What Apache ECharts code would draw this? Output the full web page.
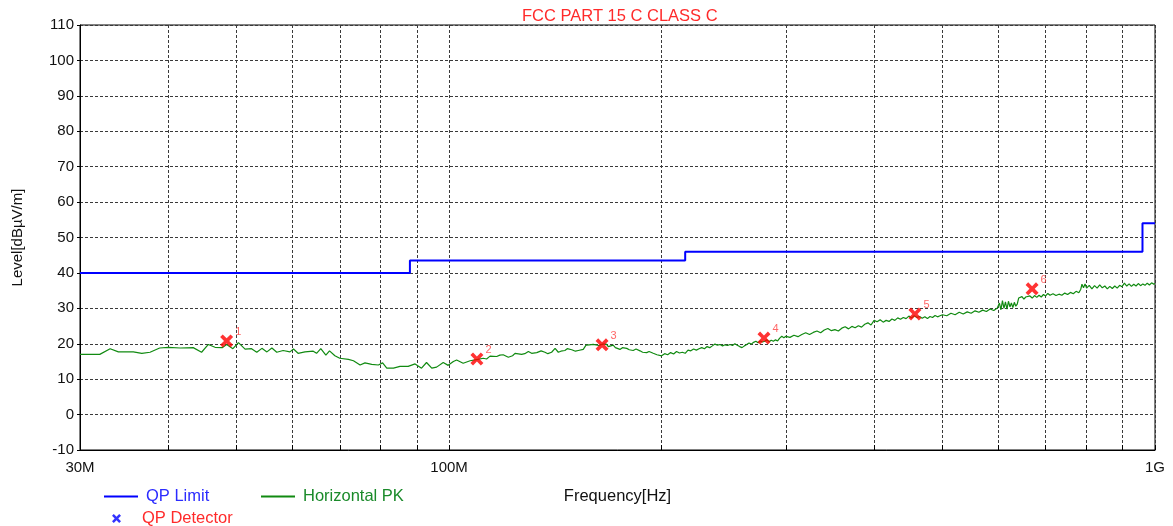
<!DOCTYPE html>
<html>
<head>
<meta charset="utf-8">
<script src="https://cdn.jsdelivr.net/npm/echarts@6/dist/echarts.min.js"></script>
<style>
html,body{margin:0;padding:0;background:#fff;}
#chart{width:1173px;height:526px;}
</style>
</head>
<body>
<div id="chart"></div>
<script>
// ---- data (frequency in MHz, level in dBµV/m) ----
const titleText = 'FCC PART 15 C CLASS C';
const xRange = [30, 1000];
const yRange = [-10, 110];
const yStep = 10;
const xTickLabels = {30: '30M', 100: '100M', 1000: '1G'};

// QP limit bands: [startMHz, endMHz, level]
const limitBands = [[30, 88, 40], [88, 216, 43.5], [216, 960, 46], [960, 1000, 54]];

// QP detector readings
const qpFreq  = [48.4, 109.5, 164.7, 279.3, 457.0, 669.7];
const qpLevel = [20.8, 15.7, 19.7, 21.6, 28.4, 35.5];

// Horizontal PK trace [MHz, level]
const pkLow = [
 [30,17.0],[32,17.0],[33.1,18.6],[34,17.7],[35.7,17.7],[36.7,17.3],[37.7,17.6],[38.9,18.8],[40,19.0],
 [41.6,18.8],[43.4,18.9],[44.6,17.6],[45.6,19.8],[46.6,19.0],[47.7,18.9],[48.4,19.8],[49.4,18.6],
 [50.3,20.3],[51.4,18.5],[52.5,18.6],[53.4,17.6],[54.3,18.7],[55.2,17.7],[56.1,18.8],[57.0,17.6],
 [58.2,18.1],[59.5,17.7],[60.2,18.5],[61.1,17.3],[62.5,17.7],[64.2,17.9],[64.9,17.3],[65.8,18.6],
 [66.9,16.8],[67.7,18.0],[68.9,16.6],[70.0,15.9],[72.0,15.6],[73.2,15.2],[74.8,14.0],[76.0,14.6],
 [77.7,14.2],[79.4,14.0],[80.5,14.6],[81.6,13.1],[83.4,13.1],[85.2,13.6],[87.5,13.6],[89.5,14.3],
 [91.4,13.1],[92.9,14.7],[94.5,13.1],[96.0,13.4],[98.1,14.7],[99.7,13.9]
];
const pkMid = [
 [101.4,15.0],[102.5,15.4],[104.7,14.5],[107.1,15.2],[109.8,15.6],[111.8,15.9],[113,15.7],[114.3,16.5],
 [116.8,16.4],[118,16.8],[119.3,16.9],[121.3,16.2],[123,16.6],[124.0,17.3],[126.7,17.0],[128,17.2],
 [129.5,17.8],[130.9,17.3],[133.1,17.5],[135,18.0],[136.7,17.6],[138,17.2],[139.7,17.6],[141.3,18.7],
 [142.8,17.6],[144,17.9],[145.9,18.1],[147,18.6],[149.2,18.3],[151,17.9],[152.4,18.1],[154.9,18.4],
 [156.3,19.6],[158,19.7],[160.0,19.8],[163,19.5],[165.0,19.9],[167,19.9],[168.1,19.2],[170.8,19.6],
 [172,18.9],[174.6,18.4],[176,18.9],[178.5,18.7],[180,18.3],[182.3,18.1],[184,18.5],[186.4,18.0],
 [188,17.6],[190.5,17.5],[192,17.8],[194.6,17.3],[197,16.9]
];
const pkHigh1 = [
 [200,16.6],[202,17.2],[204,16.9],[206,17.5],[208,17.1],[210,17.8],[212,17.4],[214,17.6],[216,17.3],
 [218,18.2],[220,18.0],[222,18.5],[224,18.2],[226,18.6],[228,18.9],[230,18.6],[232,19.2],[234,18.9],
 [236,19.4],[238,19.9],[240,19.6],[242,19.8],[244,19.4],[246,19.7],[248,19.5],[250,19.8],[252,19.5],
 [254,20.0],[256,19.6],[258,19.2],[260,18.9],[262,19.4],[264,19.8],[266,20.2],[268,19.9],[270,20.4],
 [272,20.7],[274,20.3],[276,20.8],[278,20.5],[280,20.7],[282,21.1],[284,20.6],[286,21.0],[288,20.7],
 [290,21.1],[292,20.8],[294,21.6],[296,22.1],[298,21.7]
];
const pkHigh2 = [
 [300,22.1],[304,21.8],[308,22.4],[312,22.0],[316,22.6],[320,23.1],[324,22.6],[328,23.2],[332,23.6],
 [336,23.1],[340,23.9],[344,24.3],[348,23.7],[352,24.0],[356,23.6],[360,24.4],[364,24.8],[368,24.2],
 [372,24.9],[376,24.5],[380,25.1],[384,24.7],[388,25.5],[392,25.9],[396,25.3],[400,26.6],[404,26.2],
 [408,26.8],[412,26.1],[416,26.6],[420,26.3],[424,27.0],[428,26.6],[432,27.3],[436,26.9],[440,27.4],
 [444,27.1],[448,27.8],[452,27.3],[456,27.9],[460,27.4],[464,27.7],[468,27.2],[472,27.6],[476,27.1],
 [480,27.7],[484,27.4],[488,28.0],[492,27.6],[496,27.9]
];
const pkHigh3 = [
 [500,28.2],[507,27.9],[514,28.6],[521,28.2],[528,28.9],[535,28.4],[542,29.0],[549,28.6],[556,29.3],
 [563,28.9],[570,29.5],[577,29.1],[584,29.8],[591,29.4],[598,30.1],[602,31.5],[605,29.6],[608,32.2],
 [611,30.0],[614,31.8],[617,29.8],[620,32.0],[623,30.4],[626,31.5],[629,30.2],[632,31.7],[635,30.6],
 [638,31.2],[641,32.9],[644,32.5],[648,33.3],[652,32.6],[656,33.2],[660,32.8],[665,33.5],[670,32.9],
 [675,33.6],[680,33.1],[685,33.7],[690,33.2],[695,33.9],[700,33.5],[705,34.2],[710,33.7],[717,34.1],
 [724,33.6],[731,34.0],[738,33.7],[745,34.3],[752,33.9],[759,34.5],[766,34.1],[773,34.8],[780,34.4],
 [785,35.4],[788,36.8],[792,35.8],[796,36.9],[800,35.7],[807,36.5],[814,35.5],[821,36.4],[828,35.7],
 [835,36.6],[842,35.8],[849,36.3],[856,35.5],[863,36.2],[870,35.6],[877,36.3],[884,35.7],[891,36.5],
 [898,36.1],[905,37.1],[912,36.3],[919,36.9],[926,36.2],[933,36.8],[940,36.3],[947,37.0],[954,36.4],
 [961,36.9],[968,36.5],[975,37.1],[982,36.6],[989,37.2],[996,36.8],[1000,37.0]
];

// ---- build series data ----
const pkData = pkLow.concat(pkMid, pkHigh1, pkHigh2, pkHigh3);
const limitData = [];
limitBands.forEach(b => { limitData.push([b[0], b[2]]); limitData.push([b[1], b[2]]); });
const qpData = qpFreq.map((f, i) => [f, qpLevel[i]]);

const FONT = 'Liberation Sans, Arial, sans-serif';
const xMark = 'path://M0,2 L2,0 L5,3 L8,0 L10,2 L7,5 L10,8 L8,10 L5,7 L2,10 L0,8 L3,5 Z';
const gridDash = {color: '#3a3a3a', type: [3, 2], width: 1};

const chart = echarts.init(document.getElementById('chart'), null, {renderer: 'canvas'});
chart.setOption({
  animation: false,
  backgroundColor: '#ffffff',
  textStyle: {fontFamily: FONT},
  title: {
    text: titleText, left: 517, top: 3,
    textStyle: {color: '#ff2a2a', fontSize: 16.5, fontWeight: 'normal', fontFamily: FONT}
  },
  grid: {left: 80, right: 18, top: 25, bottom: 76, show: true, borderColor: '#000', borderWidth: 1, backgroundColor: '#fff'},
  legend: [
    {data: [{name: 'QP Limit', icon: 'rect', itemStyle: {color: '#0000ff'}}], left: 99, top: 483, itemWidth: 34, itemHeight: 2,
     textStyle: {color: '#2b2bff', fontSize: 16.5, fontFamily: FONT, padding: [0,0,0,3]}},
    {data: [{name: 'Horizontal PK', icon: 'rect', itemStyle: {color: '#118a11'}}], left: 256, top: 483, itemWidth: 34, itemHeight: 2,
     textStyle: {color: '#1a8a2a', fontSize: 16.5, fontFamily: FONT, padding: [0,0,0,3]}},
    {data: [{name: 'QP Detector', icon: xMark, itemStyle: {color: '#0000ff'}}], left: 107, top: 505, itemWidth: 9, itemHeight: 9,
     textStyle: {color: '#ff2a2a', fontSize: 16.5, fontFamily: FONT, padding: [0,0,0,16]}}
  ],
  xAxis: {
    type: 'log', logBase: 10, min: xRange[0], max: xRange[1],
    name: 'Frequency[Hz]', nameLocation: 'middle', nameGap: 38,
    nameTextStyle: {color: '#111', fontSize: 16.5, fontFamily: FONT},
    axisLine: {show: true, onZero: false, lineStyle: {color: '#000', width: 1}},
    axisTick: {show: true, inside: true, length: 5, lineStyle: {color: '#000'}},
    minorTick: {show: true, splitNumber: 9, length: 5, lineStyle: {color: '#000'}},
    splitLine: {show: true, lineStyle: gridDash},
    minorSplitLine: {show: true, lineStyle: gridDash},
    axisLabel: {
      color: '#111', fontSize: 15, margin: 10, fontFamily: FONT, showMinLabel: true, showMaxLabel: true,
      formatter: v => xTickLabels[Math.round(v)] || ''
    }
  },
  yAxis: {
    type: 'value', min: yRange[0], max: yRange[1], interval: yStep,
    name: 'Level[dBµV/m]', nameLocation: 'middle', nameGap: 55,
    nameTextStyle: {color: '#111', fontSize: 15, fontFamily: FONT},
    axisLine: {show: true, lineStyle: {color: '#000', width: 1}},
    axisTick: {show: true, length: 3, lineStyle: {color: '#000'}},
    splitLine: {show: true, lineStyle: gridDash},
    axisLabel: {color: '#111', fontSize: 15, margin: 6, fontFamily: FONT}
  },
  series: [
    {name: 'QP Limit', type: 'line', data: limitData, symbol: 'none', z: 3,
     lineStyle: {color: '#0000ff', width: 2}, itemStyle: {color: '#0000ff'}},
    {name: 'Horizontal PK', type: 'line', data: pkData, symbol: 'none', z: 2,
     lineStyle: {color: '#118a11', width: 1.2}, itemStyle: {color: '#118a11'}},
    {name: 'QP Detector', type: 'scatter', data: qpData, symbol: xMark, symbolSize: 13, z: 5,
     itemStyle: {color: '#ff0000'},
     label: {show: true, position: 'right', distance: 2, offset: [0, -9], color: '#ff4040', fontSize: 11,
             fontFamily: FONT, formatter: p => String(p.dataIndex + 1)}}
  ]
});
</script>
</body>
</html>
